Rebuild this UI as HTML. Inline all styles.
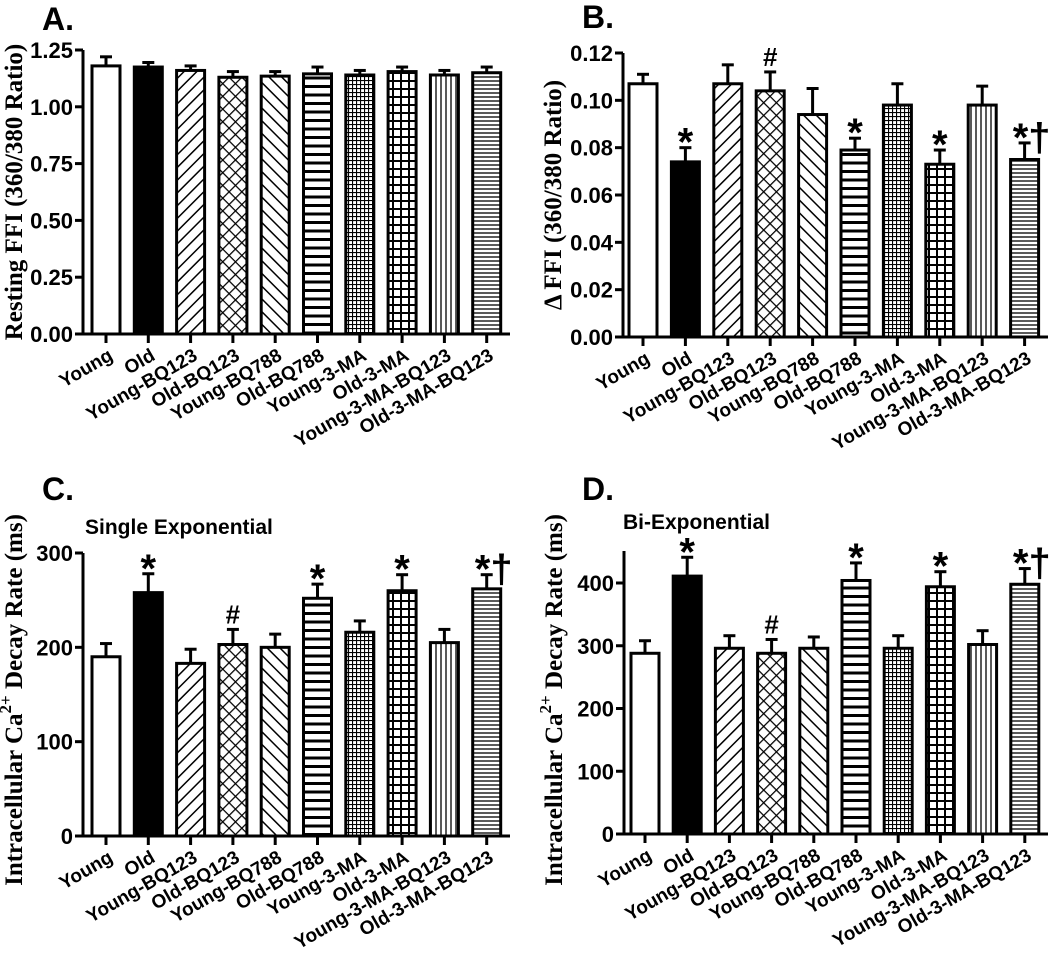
<!DOCTYPE html>
<html><head><meta charset="utf-8">
<style>
body{margin:0;background:#fff;}
svg{display:block;font-family:"Liberation Sans",Arial,sans-serif;}
.tk{font-weight:bold;font-size:22px;}
.xl{font-weight:bold;font-size:19px;}
.yt{font-family:"Liberation Serif","Times New Roman",serif;font-weight:bold;font-size:25px;}
.pl{font-weight:bold;font-size:32px;}
.an{font-weight:bold;}
</style></head>
<body>
<svg id="fig" width="1050" height="965" viewBox="0 0 1050 965">
<defs>
<pattern id="p-diag" patternUnits="userSpaceOnUse" width="9" height="9" patternTransform="rotate(45)"><rect width="9" height="9" fill="#fff"/><line x1="0" y1="0" x2="0" y2="9" stroke="#000" stroke-width="3"/></pattern>
<pattern id="p-bdiag" patternUnits="userSpaceOnUse" width="9" height="9" patternTransform="rotate(-45)"><rect width="9" height="9" fill="#fff"/><line x1="0" y1="0" x2="0" y2="9" stroke="#000" stroke-width="3"/></pattern>
<pattern id="p-cross" patternUnits="userSpaceOnUse" width="9" height="9" patternTransform="rotate(45)"><rect width="9" height="9" fill="#fff"/><line x1="0" y1="0" x2="0" y2="9" stroke="#000" stroke-width="2.5"/><line x1="0" y1="0" x2="9" y2="0" stroke="#000" stroke-width="2.5"/></pattern>
<pattern id="p-hthick" patternUnits="userSpaceOnUse" width="8" height="8.5"><rect width="8" height="8.5" fill="#fff"/><line x1="0" y1="1.5" x2="8" y2="1.5" stroke="#000" stroke-width="3"/></pattern>
<pattern id="p-finegrid" patternUnits="userSpaceOnUse" width="4" height="4"><rect width="4" height="4" fill="#fff"/><line x1="0.5" y1="0" x2="0.5" y2="4" stroke="#000" stroke-width="1.2"/><line x1="0" y1="0.5" x2="4" y2="0.5" stroke="#000" stroke-width="1.2"/></pattern>
<pattern id="p-grid" patternUnits="userSpaceOnUse" width="8" height="8"><rect width="8" height="8" fill="#fff"/><line x1="1" y1="0" x2="1" y2="8" stroke="#000" stroke-width="2"/><line x1="0" y1="1" x2="8" y2="1" stroke="#000" stroke-width="2"/></pattern>
<pattern id="p-vert" patternUnits="userSpaceOnUse" width="5" height="5"><rect width="5" height="5" fill="#fff"/><line x1="1" y1="0" x2="1" y2="5" stroke="#000" stroke-width="1.3"/></pattern>
<pattern id="p-hfine" patternUnits="userSpaceOnUse" width="5" height="4"><rect width="5" height="4" fill="#fff"/><line x1="0" y1="1" x2="5" y2="1" stroke="#000" stroke-width="1.3"/></pattern>
</defs>
</svg>
<script>
const categories = ["Young","Old","Young-BQ123","Old-BQ123","Young-BQ788","Old-BQ788","Young-3-MA","Old-3-MA","Young-3-MA-BQ123","Old-3-MA-BQ123"];
const fills = ["#fff","#000","url(#p-diag)","url(#p-cross)","url(#p-bdiag)","url(#p-hthick)","url(#p-finegrid)","url(#p-grid)","url(#p-vert)","url(#p-hfine)"];

const valuesA = [1.18,1.175,1.16,1.13,1.135,1.145,1.14,1.155,1.14,1.15];
const errorsA = [0.04,0.02,0.02,0.025,0.02,0.03,0.02,0.02,0.02,0.025];
const ticksA = [0,0.25,0.5,0.75,1.0,1.25];
const tickLabelsA = ["0.00","0.25","0.50","0.75","1.00","1.25"];

const valuesB = [0.107,0.074,0.107,0.104,0.094,0.079,0.098,0.073,0.098,0.075];
const errorsB = [0.004,0.006,0.008,0.008,0.011,0.005,0.009,0.006,0.008,0.007];
const ticksB = [0,0.02,0.04,0.06,0.08,0.10,0.12];
const tickLabelsB = ["0.00","0.02","0.04","0.06","0.08","0.10","0.12"];
const marksB = ["","*","","#","","*","","*","","*†"];

const valuesC = [190,258,183,203,200,252,216,260,205,262];
const errorsC = [14,20,15,16,14,15,12,17,14,15];
const ticksC = [0,100,200,300];
const tickLabelsC = ["0","100","200","300"];
const marksC = ["","*","","#","","*","","*","","*†"];

const valuesD = [288,411,296,288,296,404,296,394,302,398];
const errorsD = [20,30,20,22,18,28,20,24,22,25];
const ticksD = [0,100,200,300,400];
const tickLabelsD = ["0","100","200","300","400"];
const marksD = ["","*","","#","","*","","*","","*†"];

const NS="http://www.w3.org/2000/svg";
const svg=document.getElementById('fig');
function mk(tag,attrs,parent){const e=document.createElementNS(NS,tag);for(const k in attrs)e.setAttribute(k,attrs[k]);(parent||svg).appendChild(e);return e;}

function panel(cfg){
  const g=mk('g',{});
  
  
  const yS=v=>cfg.y0-(v-cfg.min)/(cfg.max-cfg.min)*(cfg.y0-cfg.yTop);
  const xS=i=>cfg.c0+i*cfg.step;
  cfg.values.forEach((v,i)=>{
    const x=xS(i), y=yS(v), e=cfg.errors[i], yE=yS(v+e);
    const ln=mk('line',{x1:x,y1:y,x2:x,y2:yE,stroke:'#000','stroke-width':3},g);
    
    
    const cap=mk('line',{x1:x-6,y1:yE,x2:x+6,y2:yE,stroke:'#000','stroke-width':3},g);
    
    
    const r=mk('rect',{x:x-14,y:y,width:28,height:cfg.y0-y,fill:fills[i],stroke:'#000','stroke-width':3},g);
    
    
    if(cfg.marks&&cfg.marks[i]){
      const isHash=cfg.marks[i][0]=='#';
      const t=mk('text',{x:x+(cfg.marks[i].length>1?7:0),y:yE-(isHash?6:-8),'text-anchor':'middle',class:'an','font-size':isHash?26:40},g);
      t.textContent=cfg.marks[i];
      
      
    }
    const tk=mk('line',{x1:x,y1:cfg.y0,x2:x,y2:cfg.y0+9,stroke:'#000','stroke-width':3},g);
    
    
    const lb=mk('text',{x:x+8,y:cfg.y0+25,'text-anchor':'end',class:'xl',transform:`rotate(-30 ${x+8} ${cfg.y0+25})`},g);
    lb.textContent=categories[i];
    
    
  });
  const ya=mk('line',{x1:cfg.ax,y1:cfg.axTop,x2:cfg.ax,y2:cfg.y0+1.5,stroke:'#000','stroke-width':3},g);
  
  
  const xa=mk('line',{x1:cfg.ax-1.5,y1:cfg.y0,x2:cfg.axEnd,y2:cfg.y0,stroke:'#000','stroke-width':3},g);
  
  
  cfg.ticks.forEach((t,k)=>{
    const y=yS(t);
    const tl=mk('line',{x1:cfg.ax-8,y1:y,x2:cfg.ax,y2:y,stroke:'#000','stroke-width':3},g);
    
    
    const tx=mk('text',{x:cfg.ax-10,y:y+8,'text-anchor':'end',class:'tk'},g);
    tx.textContent=cfg.tickLabels[k];
    
    
  });
  const pl=mk('text',{x:cfg.plx,y:cfg.ply,class:'pl'},g);
  pl.textContent=cfg.id+'.';
  
  
  const yt=mk('text',{x:cfg.ytx,y:cfg.yty,'text-anchor':'middle',class:'yt',transform:`rotate(-90 ${cfg.ytx} ${cfg.yty})`},g);
  yt.innerHTML=cfg.ytitle;
  
  
  if(cfg.sub){
    const st=mk('text',{x:cfg.subx,y:cfg.suby,'font-weight':'bold','font-size':21},g);
    st.textContent=cfg.sub;
    
    
  }
}
const caT='Intracellular Ca<tspan dy="-11" font-size="17">2+</tspan><tspan dy="11"> Decay Rate (ms)</tspan>';
panel({id:'A',values:valuesA,errors:errorsA,ticks:ticksA,tickLabels:tickLabelsA,min:0,max:1.25,y0:334,yTop:50,axTop:50,ax:83,axEnd:510,c0:106,step:42.3,plx:42,ply:30,ytx:22,yty:192,ytitle:'Resting FFI (360/380 Ratio)'});
panel({id:'B',values:valuesB,errors:errorsB,marks:marksB,ticks:ticksB,tickLabels:tickLabelsB,min:0,max:0.12,y0:337,yTop:53,axTop:53,ax:623,axEnd:1048,c0:643,step:42.4,plx:582,ply:28,ytx:561,yty:195,ytitle:'Δ FFI (360/380 Ratio)'});
panel({id:'C',values:valuesC,errors:errorsC,marks:marksC,ticks:ticksC,tickLabels:tickLabelsC,min:0,max:300,y0:836,yTop:553,axTop:553,ax:83,axEnd:510,c0:106,step:42.3,plx:42,ply:500,ytx:22,yty:700,ytitle:caT,sub:'Single Exponential',subx:85,suby:534});
panel({id:'D',values:valuesD,errors:errorsD,marks:marksD,ticks:ticksD,tickLabels:tickLabelsD,min:0,max:400,y0:834,yTop:583,axTop:551,ax:624,axEnd:1048,c0:645,step:42.2,plx:582,ply:500,ytx:562,yty:700,ytitle:caT,sub:'Bi-Exponential',subx:623,suby:529});
</script>
</body></html>
